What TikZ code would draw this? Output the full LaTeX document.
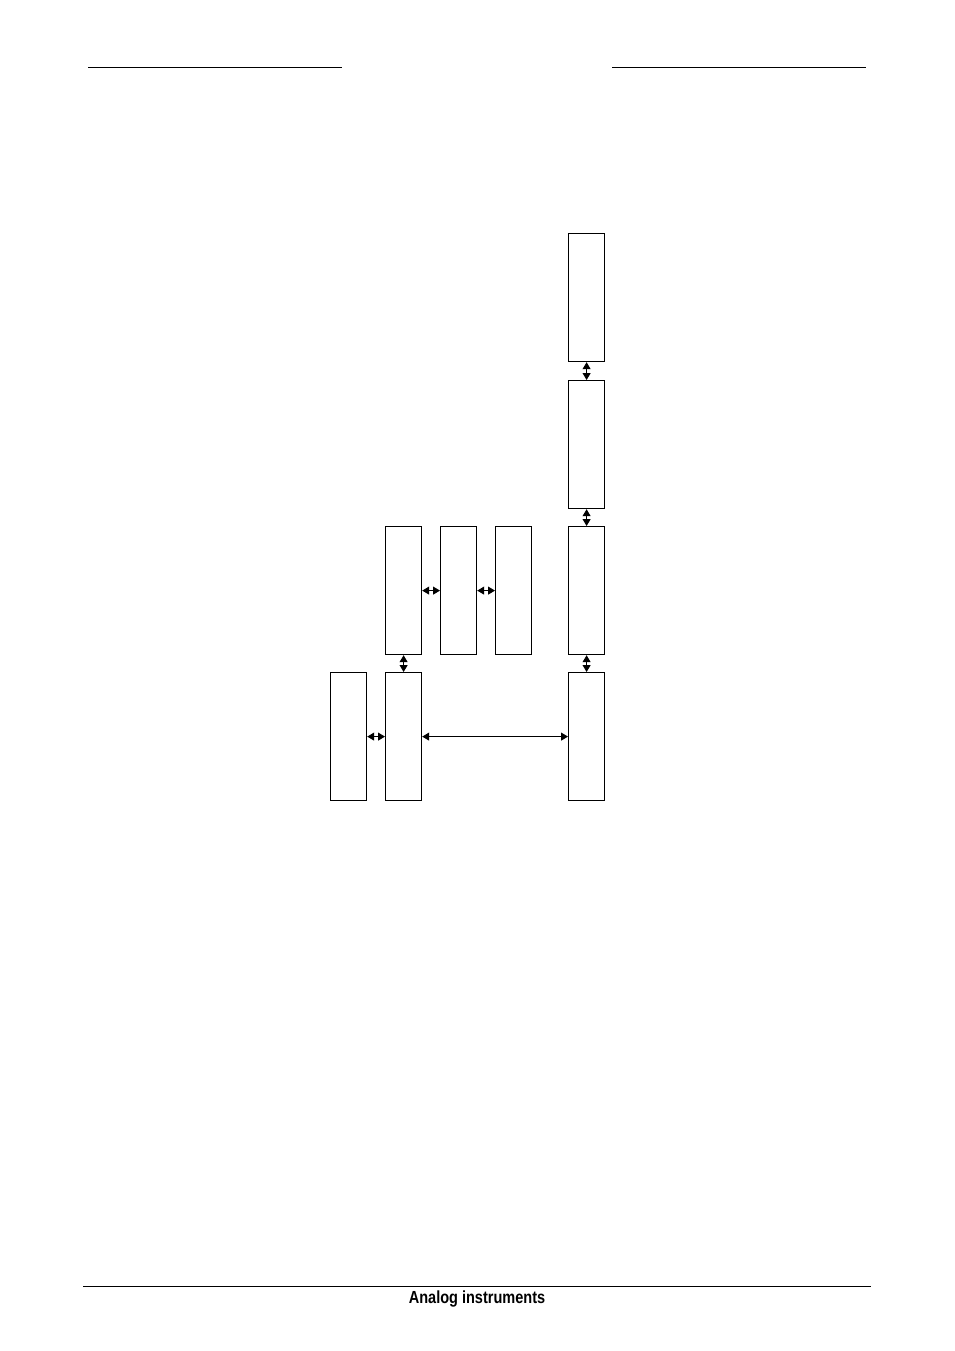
\documentclass[tikz,border=0pt]{standalone}
\usepackage{fontspec}
\setmainfont{Liberation Sans}
\usetikzlibrary{arrows.meta}
\begin{document}
\begin{tikzpicture}[x=1pt,y=-1pt,
  blk/.style={draw, line width=1.2pt, minimum width=36pt, minimum height=128pt, inner sep=0pt, anchor=north west},
  link/.style={line width=1pt, {Triangle[length=7pt,width=8pt]}-{Triangle[length=7pt,width=8pt]}},
  rule/.style={line width=1pt}]
\useasboundingbox (0,0) rectangle (954,1351);
% header / footer rules
\coordinate (hl1) at (88,68); \coordinate (hl2) at (342,68);
\coordinate (hr1) at (612,68); \coordinate (hr2) at (866,68);
\coordinate (f1) at (83,1286); \coordinate (f2) at (871,1286);
\draw[rule] (hl1) -- (hl2);
\draw[rule] (hr1) -- (hr2);
\draw[rule] (f1) -- (f2);
\node (foot) at (477,1299) {\fontsize{17.5}{20}\selectfont\scalebox{0.83}[1]{\bfseries Analog instruments}};
% blocks
\node[blk] (r1) at (568,233) {};
\node[blk] (r2) at (568,380) {};
\node[blk] (r3) at (568,526) {};
\node[blk] (r4) at (568,672) {};
\node[blk] (a) at (385,526) {};
\node[blk] (b) at (440,526) {};
\node[blk] (c) at (495,526) {};
\node[blk] (d) at (385,672) {};
\node[blk] (e) at (330,672) {};
% connectors
\draw[link] (r1.south) -- (r2.north);
\draw[link] (r2.south) -- (r3.north);
\draw[link] (r3.south) -- (r4.north);
\draw[link] (a.east) -- (b.west);
\draw[link] (b.east) -- (c.west);
\draw[link] (a.south) -- (d.north);
\draw[link] (e.east) -- (d.west);
\draw[link] (d.east) -- (r4.west);
\end{tikzpicture}
\end{document}
